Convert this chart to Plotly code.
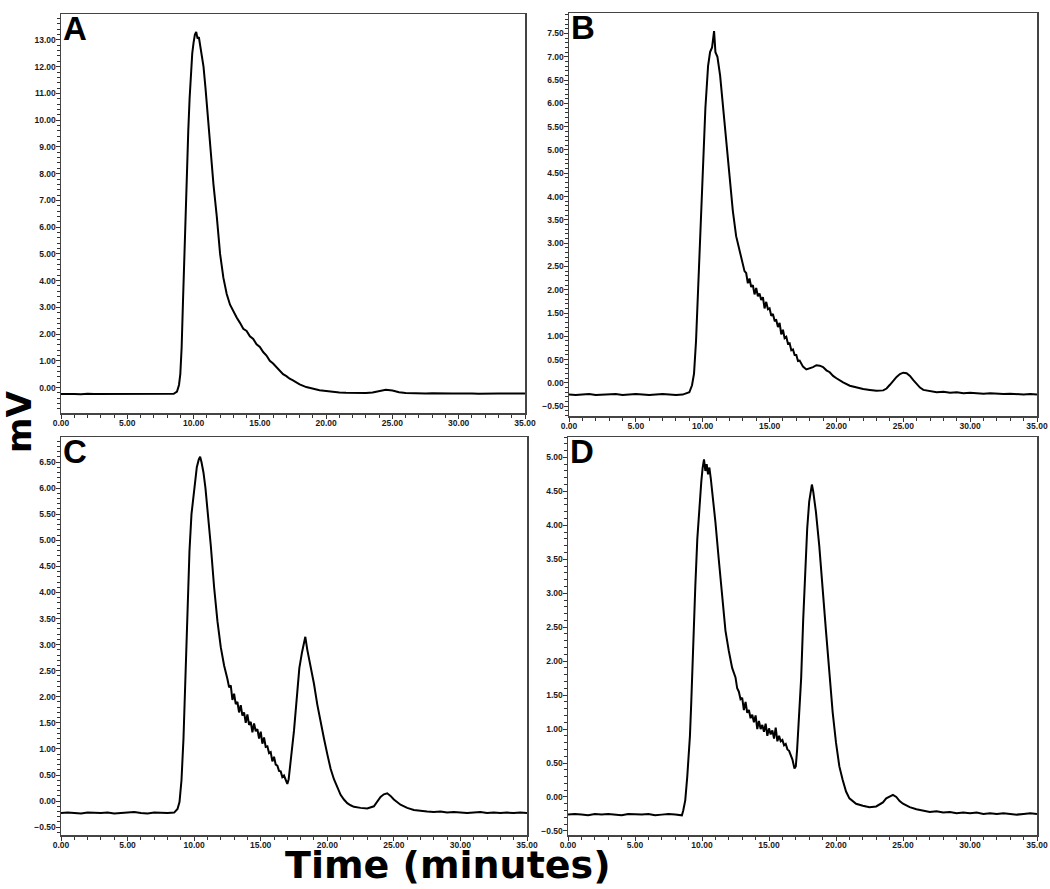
import plotly.graph_objects as go

# ---------------- data ----------------
time_a = [0, 0.5, 1, 1.5, 2, 2.5, 3, 3.5, 4, 4.5, 5, 5.5, 6, 6.5, 7, 7.5, 8, 8.5,
          8.75, 8.9, 9.0, 9.1, 9.2, 9.3, 9.4, 9.5, 9.6, 9.7, 9.8, 9.9, 10.0, 10.1, 10.2,
          10.3, 10.4, 10.5, 10.6, 10.75, 10.9, 11.0, 11.25, 11.5, 11.75, 12.0, 12.25,
          12.5, 12.75, 13.0, 13.25, 13.5, 13.75, 14.0, 14.25, 14.5, 14.75, 15.0, 15.25,
          15.5, 15.75, 16.0, 16.25, 16.5, 16.75, 17.0, 17.25, 17.5, 17.75, 18.0, 18.5,
          19.0, 19.5, 20.0, 20.5, 21.0, 21.5, 22.0, 22.5, 23.0, 23.5, 24.0, 24.5, 25.0,
          25.5, 26.0, 26.5, 27, 27.5, 28, 28.5, 29, 29.5, 30, 30.5, 31, 31.5, 32, 32.5,
          33, 33.5, 34, 34.5, 35]
signal_a = [-0.24, -0.23, -0.24, -0.25, -0.23, -0.24, -0.24, -0.23, -0.25, -0.24, -0.23,
            -0.24, -0.25, -0.24, -0.23, -0.24, -0.24, -0.23,
            -0.15, 0.1, 0.5, 1.5, 3.2, 5.0, 6.8, 8.3, 9.6, 10.8, 11.8, 12.5, 12.9, 13.2,
            13.3, 13.05, 13.1, 12.8, 12.6, 12.0, 11.2, 10.6, 9.0, 7.6, 6.4, 5.0, 4.1,
            3.5, 3.1, 2.85, 2.62, 2.42, 2.2, 2.12, 1.92, 1.82, 1.62, 1.52, 1.33, 1.2,
            1.0, 0.9, 0.76, 0.66, 0.5, 0.43, 0.33, 0.27, 0.18, 0.12, 0.02,
            -0.05, -0.1, -0.13, -0.16, -0.18, -0.19, -0.2, -0.21, -0.2, -0.18, -0.12,
            -0.08, -0.11, -0.17, -0.2, -0.21, -0.21, -0.22, -0.21, -0.22, -0.21, -0.22,
            -0.22, -0.21, -0.22, -0.23, -0.22, -0.21, -0.22, -0.22, -0.21, -0.22, -0.22]

time_b = [0, 0.5, 1, 1.5, 2, 2.5, 3, 3.5, 4, 4.5, 5, 5.5, 6, 6.5, 7, 7.5, 8, 8.5,
          9.0, 9.2, 9.35, 9.5, 9.65, 9.8, 10.0, 10.2, 10.4, 10.55, 10.7, 10.8, 10.85, 10.95,
          11.1, 11.3, 11.5, 11.75, 12.0, 12.25, 12.5, 12.75,
          13.0, 13.125, 13.25, 13.375, 13.5, 13.625, 13.75, 13.875, 14.0, 14.125, 14.25, 14.375,
          14.5, 14.625, 14.75, 14.875, 15.0, 15.125, 15.25, 15.375, 15.5, 15.625, 15.75, 15.875,
          16.0, 16.125, 16.25, 16.375, 16.5, 16.625, 16.75, 16.875, 17.0, 17.125, 17.25,
          17.5, 17.75, 18.0, 18.25, 18.5, 18.75, 19.0, 19.25, 19.5, 19.75, 20.0, 20.5, 21.0, 21.5,
          22.0, 22.5, 23.0, 23.5, 23.75, 24.0, 24.25, 24.5, 24.75, 25.0, 25.25, 25.5, 25.75, 26.0,
          26.25, 26.5,
          27.0, 27.5, 28, 28.5, 29, 29.5, 30, 30.5, 31, 31.5, 32, 32.5, 33, 33.5, 34, 34.5, 35]
signal_b = [-0.25, -0.26, -0.25, -0.24, -0.26, -0.25, -0.25, -0.24, -0.26, -0.25, -0.24,
            -0.25, -0.26, -0.25, -0.24, -0.25, -0.26, -0.25,
            -0.2, -0.05, 0.2, 0.9, 2.0, 3.2, 4.7, 5.9, 6.8, 7.1, 7.2, 7.4, 7.55, 7.1,
            7.0, 6.6, 6.0, 5.2, 4.4, 3.7, 3.15, 2.85,
            2.6, 2.4, 2.36, 2.14, 2.24, 2.06, 2.1, 1.9, 2.04, 1.86, 1.92, 1.78,
            1.84, 1.6, 1.74, 1.58, 1.6, 1.44, 1.48, 1.34, 1.35, 1.2, 1.29, 1.04,
            1.14, 0.96, 0.99, 0.84, 0.85, 0.7, 0.72, 0.6, 0.6, 0.47, 0.48,
            0.35, 0.29, 0.31, 0.34, 0.38, 0.37, 0.34, 0.27, 0.23, 0.15, 0.1, 0.01, -0.06, -0.1,
            -0.13, -0.15, -0.17, -0.16, -0.12, -0.04, 0.05, 0.13, 0.19, 0.22, 0.21, 0.15, 0.06,
            -0.03, -0.1, -0.15,
            -0.18, -0.2, -0.19, -0.21, -0.2, -0.22, -0.21, -0.22, -0.23, -0.22, -0.23, -0.24,
            -0.23, -0.24, -0.25, -0.24, -0.25]

time_c = [0, 0.5, 1, 1.5, 2, 2.5, 3, 3.5, 4, 4.5, 5, 5.5, 6, 6.5, 7, 7.5, 8, 8.5,
          8.75, 8.9, 9.05, 9.2, 9.35, 9.5, 9.65, 9.8, 10.0, 10.2, 10.35, 10.45, 10.55,
          10.7, 10.85, 11.0, 11.25, 11.5, 11.75, 12.0, 12.25,
          12.5, 12.625, 12.75, 12.875, 13.0, 13.125, 13.25, 13.375, 13.5, 13.625, 13.75, 13.875,
          14.0, 14.125, 14.25, 14.375, 14.5, 14.625, 14.75, 14.875, 15.0, 15.125, 15.25, 15.375,
          15.5, 15.625, 15.75, 15.875, 16.0, 16.125, 16.25, 16.375, 16.5, 16.625, 16.75,
          16.9, 17.0, 17.1, 17.25, 17.5, 17.75, 17.9, 18.1, 18.25, 18.35,
          18.5, 18.75, 19.0, 19.25, 19.5, 19.75, 20.0, 20.25, 20.5, 20.75, 21.0, 21.25,
          21.5, 21.75, 22.0, 22.5, 23.0, 23.5, 23.75, 24.0, 24.25, 24.5, 24.75, 25.0,
          25.5, 26.0, 26.5, 27.0, 27.5, 28, 28.5, 29, 29.5, 30, 30.5, 31, 31.5, 32, 32.5,
          33, 33.5, 34, 34.5, 35]
signal_c = [-0.23, -0.22, -0.23, -0.24, -0.22, -0.23, -0.23, -0.22, -0.24, -0.23, -0.22,
            -0.21, -0.23, -0.24, -0.22, -0.23, -0.23, -0.22,
            -0.15, -0.02, 0.4, 1.2, 2.5, 3.9, 4.8, 5.5, 6.0, 6.4, 6.55, 6.6, 6.5,
            6.3, 6.0, 5.6, 4.9, 4.1, 3.45, 2.95, 2.6,
            2.34, 2.18, 2.22, 1.94, 2.06, 1.86, 1.9, 1.7, 1.84, 1.64, 1.7, 1.5,
            1.66, 1.46, 1.52, 1.32, 1.49, 1.34, 1.38, 1.2, 1.33, 1.1, 1.22, 1.04,
            1.05, 0.92, 0.94, 0.76, 0.85, 0.7, 0.68, 0.58, 0.57, 0.46, 0.49,
            0.38, 0.33, 0.42, 0.75, 1.35, 2.1, 2.55, 2.85, 3.05, 3.15,
            2.9, 2.6, 2.25, 1.85, 1.5, 1.2, 0.9, 0.62, 0.42, 0.25, 0.12, 0.03,
            -0.04, -0.08, -0.11, -0.13, -0.14, -0.1, 0.0, 0.08, 0.13, 0.15, 0.1, 0.03,
            -0.07, -0.13, -0.17, -0.19, -0.2, -0.21, -0.2, -0.22, -0.21, -0.22, -0.23, -0.22,
            -0.21, -0.23, -0.22, -0.23, -0.22, -0.23, -0.22, -0.23]

time_d = [0, 0.5, 1, 1.5, 2, 2.5, 3, 3.5, 4, 4.5, 5, 5.5, 6, 6.5, 7, 7.5, 8, 8.5,
          8.6, 8.75, 8.9, 9.0, 9.1, 9.2, 9.35, 9.5, 9.65, 9.8, 9.95, 10.05, 10.15,
          10.25, 10.35, 10.45, 10.55, 10.65, 10.8, 11.0, 11.25, 11.5, 11.75, 12.0, 12.25,
          12.5, 12.625, 12.75, 12.875, 13.0, 13.125, 13.25, 13.375, 13.5, 13.625, 13.75, 13.875,
          14.0, 14.125, 14.25, 14.375, 14.5, 14.625, 14.75, 14.875, 15.0, 15.125, 15.25, 15.375,
          15.5, 15.625, 15.75, 15.875, 16.0, 16.125, 16.25, 16.375, 16.5, 16.625, 16.75,
          16.9, 17.0, 17.1, 17.25, 17.4, 17.55, 17.7, 17.85, 18.0, 18.1, 18.2, 18.3,
          18.5, 18.75, 19.0, 19.25, 19.5, 19.75, 20.0, 20.25, 20.5, 20.75, 21.0, 21.25,
          21.5, 22.0, 22.5, 23.0, 23.5, 23.75, 24.0, 24.25, 24.5, 24.75, 25.0, 25.5, 26.0, 26.5,
          27, 27.5, 28, 28.5, 29, 29.5, 30, 30.5, 31, 31.5, 32, 32.5, 33, 33.5, 34, 34.5, 35]
signal_d = [-0.26, -0.25, -0.26, -0.27, -0.25, -0.26, -0.25, -0.26, -0.27, -0.25, -0.26,
            -0.26, -0.25, -0.27, -0.26, -0.25, -0.26, -0.27,
            -0.2, -0.05, 0.3, 0.6, 0.9, 1.4, 2.35, 3.1, 3.8, 4.3, 4.65, 4.85, 4.97,
            4.8, 4.9, 4.75, 4.85, 4.7, 4.45, 4.05, 3.5, 2.95, 2.45, 2.15, 1.9,
            1.76, 1.6, 1.55, 1.44, 1.46, 1.28, 1.4, 1.24, 1.28, 1.16, 1.21, 1.1,
            1.2, 1.0, 1.12, 1.0, 1.06, 0.96, 1.08, 0.9, 1.01, 0.92, 0.98, 0.86,
            1.02, 0.82, 0.9, 0.82, 0.84, 0.76, 0.78, 0.7, 0.68, 0.62, 0.55,
            0.42, 0.45, 0.7, 1.15, 1.75, 2.6, 3.35, 3.95, 4.35, 4.5, 4.6, 4.5,
            4.2, 3.7, 3.0, 2.45, 1.85, 1.25, 0.8, 0.45, 0.25, 0.08, -0.02, -0.06,
            -0.1, -0.13, -0.15, -0.14, -0.08, -0.02, 0.01, 0.03, 0.0, -0.06, -0.1, -0.15, -0.18, -0.2,
            -0.22, -0.21, -0.23, -0.22, -0.24, -0.23, -0.24, -0.23, -0.25, -0.24, -0.25, -0.24,
            -0.25, -0.26, -0.25, -0.24, -0.25]

panel_labels = ["A", "B", "C", "D"]
x_tick_vals = [0, 5, 10, 15, 20, 25, 30, 35]
y_ranges = [[-0.95, 13.97], [-0.71, 7.94], [-0.65, 6.98], [-0.56, 5.30]]
y_dticks = [1.0, 0.5, 0.5, 0.5]
y_minor = [0.2, 0.1, 0.1, 0.1]

series = [(time_a, signal_a), (time_b, signal_b), (time_c, signal_c), (time_d, signal_d)]
for tx, sy in series:
    assert len(tx) == len(sy), (len(tx), len(sy))

# ---------------- layout (pixel boxes of the four panels) ----------------
W, H = 1050, 889
boxes = [(61, 525, 14, 413), (569, 1037, 13, 416), (61, 527, 437, 835), (568, 1037, 437, 835)]

fig = go.Figure()
layout = dict(
    template="none",
    width=W, height=H, margin=dict(l=0, r=0, t=0, b=0, pad=0),
    paper_bgcolor="white", plot_bgcolor="white", showlegend=False,
    font=dict(family="Arial, Liberation Sans, sans-serif", color="black"),
)
annotations = []
for i, ((tx, sy), (x0, x1, y0, y1)) in enumerate(zip(series, boxes)):
    xa = "xaxis" if i == 0 else f"xaxis{i+1}"
    ya = "yaxis" if i == 0 else f"yaxis{i+1}"
    xr = "x" if i == 0 else f"x{i+1}"
    yr = "y" if i == 0 else f"y{i+1}"
    fig.add_trace(go.Scatter(x=tx, y=sy, mode="lines", xaxis=xr, yaxis=yr,
                             line=dict(color="black", width=2), hoverinfo="skip"))
    layout[xa] = dict(
        domain=[x0 / W, x1 / W], anchor=yr, range=[0, 35], automargin=False,
        tickvals=x_tick_vals, ticktext=[f"{v:.2f}" for v in x_tick_vals],
        ticks="outside", ticklen=4, tickwidth=1, tickcolor="#333",
        ticklabelstandoff=-3,
        minor=dict(dtick=1, ticks="outside", ticklen=3, tickcolor="#333"),
        showline=True, linecolor="#444", linewidth=1.5, mirror=True,
        showgrid=False, zeroline=False,
        tickfont=dict(size=8.5, weight="bold", color="#1a1a1a"),
    )
    layout[ya] = dict(
        domain=[1 - y1 / H, 1 - y0 / H], anchor=xr, range=y_ranges[i], automargin=False,
        dtick=y_dticks[i], tick0=0, tickformat=".2f",
        ticks="outside", ticklen=4, tickwidth=1, tickcolor="#333",
        ticklabelstandoff=-2,
        minor=dict(dtick=y_minor[i], tick0=0, ticks="outside", ticklen=3, tickcolor="#333"),
        showline=True, linecolor="#444", linewidth=1.5, mirror=True,
        showgrid=False, zeroline=False,
        tickfont=dict(size=8.5, weight="bold", color="#1a1a1a"),
    )
    annotations.append(dict(
        text=f"<b>{panel_labels[i]}</b>", xref=f"{xr} domain", yref=f"{yr} domain",
        x=0.0, y=1.0, xanchor="left", yanchor="top", xshift=0, yshift=6, showarrow=False,
        font=dict(size=33, color="black", family="Arial, Liberation Sans, sans-serif"),
    ))

annotations.append(dict(
    text="<b>mV</b>", xref="paper", yref="paper", x=19 / W, y=1 - 422 / H,
    xanchor="center", yanchor="middle", textangle=-90, showarrow=False,
    font=dict(size=34, color="black", family="DejaVu Sans, sans-serif"),
))
annotations.append(dict(
    text="<b>Time (minutes)</b>", xref="paper", yref="paper", x=448 / W, y=0,
    xanchor="center", yanchor="bottom", yshift=0, showarrow=False,
    font=dict(size=38, color="black", family="DejaVu Sans, sans-serif"),
))
layout["annotations"] = annotations
fig.update_layout(**layout)
fig.write_html(
    "out.html",
    config={"displayModeBar": False, "staticPlot": True},
    post_script="document.body.style.margin='0';document.body.style.overflow='hidden';",
)
